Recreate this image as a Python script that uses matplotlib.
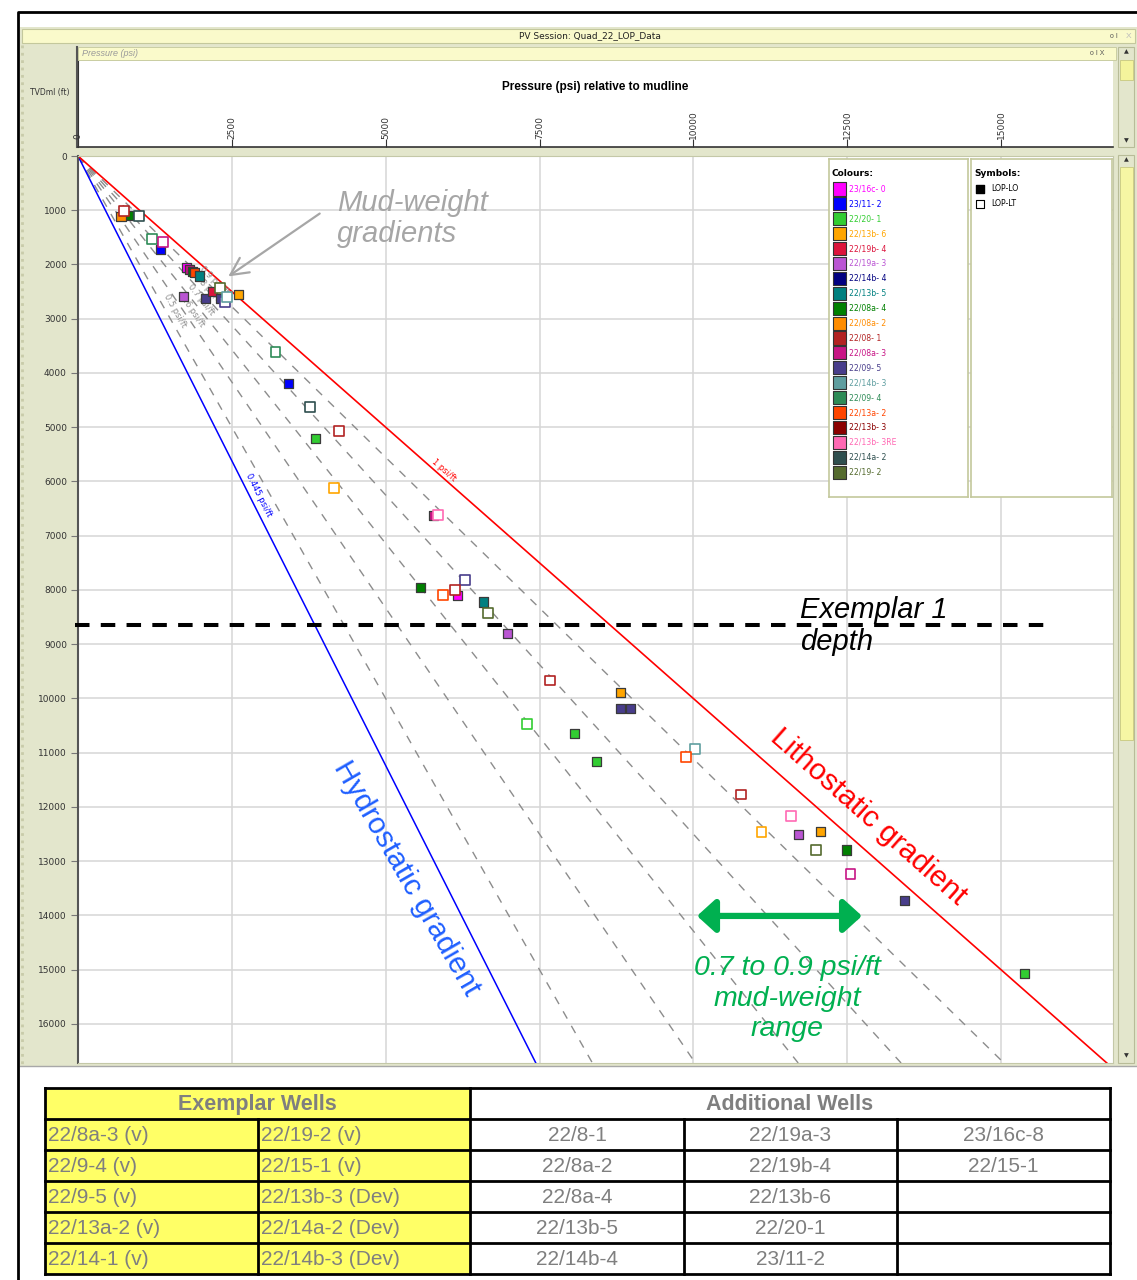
import numpy as np
import matplotlib
matplotlib.use("Agg")
import matplotlib.pyplot as plt
from matplotlib.patches import Rectangle

plt.rcParams['font.family'] = ['Liberation Sans', 'DejaVu Sans']

W, H = 1137, 1280

# wells and their plotting colours
wells = ['23/16c- 0', '23/11- 2', '22/20- 1', '22/13b- 6', '22/19b- 4', '22/19a- 3',
         '22/14b- 4', '22/13b- 5', '22/08a- 4', '22/08a- 2', '22/08- 1', '22/08a- 3',
         '22/09- 5', '22/14b- 3', '22/09- 4', '22/13a- 2', '22/13b- 3', '22/13b- 3RE',
         '22/14a- 2', '22/19- 2']
well_colors = ['#FF00FF', '#0000FF', '#32CD32', '#FFA500', '#DC143C', '#BA55D3',
               '#000080', '#008080', '#008000', '#FF8C00', '#B22222', '#C71585',
               '#483D8B', '#5F9EA0', '#2E8B57', '#FF4500', '#8B0000', '#FF69B4',
               '#2F4F4F', '#556B2F']
col_of = dict(zip(wells, well_colors))

# LOP-LO (filled symbols)
lo_psi = [820, 700, 1340, 1760, 1810, 1860, 1890, 1980, 1710, 2070, 2190, 2310, 2605,
          3423, 3856, 5773, 5568, 6163, 6586, 6981, 8822, 8822, 8980, 8064, 8432,
          11714, 12066, 12483, 13436, 15380]
lo_ft = [1100, 1120, 1720, 2050, 2090, 2130, 2150, 2214, 2583, 2620, 2497, 2620, 2546,
         4194, 5209, 6624, 7958, 8100, 8223, 8807, 9895, 10190, 10190, 10640, 11157,
         12503, 12448, 12792, 13727, 15068]
lo_well = ['22/08a- 4', '22/08a- 2', '23/11- 2', '23/16c- 0', '22/08a- 3', '22/08a- 4',
           '22/13a- 2', '22/13b- 5', '22/19a- 3', '22/09- 5', '22/19b- 4', '22/09- 5',
           '22/13b- 6', '23/11- 2', '22/20- 1', '22/08a- 3', '22/08a- 4', '23/16c- 0',
           '22/13b- 5', '22/19a- 3', '22/13b- 6', '22/09- 5', '22/09- 5', '22/20- 1',
           '22/20- 1', '22/19a- 3', '22/13b- 6', '22/08a- 4', '22/09- 5', '22/20- 1']

# LOP-LT (open symbols)
lt_psi = [747, 991, 1197, 1386, 2307, 2388, 2426, 3211, 3769, 4240, 4165, 5854, 6288,
          6125, 5936, 6667, 7674, 7300, 10024, 9878, 10772, 11584, 11108, 11990, 12554]
lt_ft = [1015, 1100, 1537, 1587, 2435, 2688, 2596, 3616, 4625, 5068, 6113, 6624, 7823,
         7995, 8100, 8426, 9668, 10467, 10928, 11083, 11771, 12171, 12466, 12786, 13234]
lt_well = ['22/08- 1', '22/14a- 2', '22/09- 4', '22/08a- 3', '22/19- 2', '22/09- 5',
           '22/14b- 3', '22/09- 4', '22/14a- 2', '22/08- 1', '22/13b- 6', '22/13b- 3RE',
           '22/09- 5', '22/08- 1', '22/13a- 2', '22/19- 2', '22/08- 1', '22/20- 1',
           '22/14b- 3', '22/13a- 2', '22/08- 1', '22/13b- 3RE', '22/13b- 6', '22/19- 2',
           '22/08a- 3']

hydro_grad = 0.445
litho_grad = 1.0
mud_grads = [0.5, 0.6, 0.7, 0.8, 0.9]
mud_label_ft = [2850, 2850, 2650, 2450, 2300]
exemplar_depth = 8650

x_ticks = [0, 2500, 5000, 7500, 10000, 12500, 15000]
y_ticks = list(range(0, 17000, 1000))
x_max, y_max = 16820, 16720

exemplar_wells = [['22/8a-3 (v)', '22/19-2 (v)'],
                  ['22/9-4 (v)', '22/15-1 (v)'],
                  ['22/9-5 (v)', '22/13b-3 (Dev)'],
                  ['22/13a-2 (v)', '22/14a-2 (Dev)'],
                  ['22/14-1 (v)', '22/14b-3 (Dev)']]
additional_wells = [['22/8-1', '22/19a-3', '23/16c-8'],
                    ['22/8a-2', '22/19b-4', '22/15-1'],
                    ['22/8a-4', '22/13b-6', ''],
                    ['22/13b-5', '22/20-1', ''],
                    ['22/14b-4', '23/11-2', '']]

BEIGE = '#E3E6CC'
PALEY = '#FAFACB'
EDGE = '#C4C89C'
GREEN = '#00B050'
GREY_TXT = '#7F7F7F'

fig = plt.figure(figsize=(W / 100, H / 100), dpi=100)

# background canvas in pixel units for the window chrome and the table
bg = fig.add_axes([0, 0, 1, 1])
bg.set_xlim(0, W)
bg.set_ylim(H, 0)
bg.axis('off')


def box(x0, y0, x1, y1, fc, ec='none', lw=0.0, z=1):
    bg.add_patch(Rectangle((x0, y0), x1 - x0, y1 - y0, facecolor=fc,
                           edgecolor=ec, lw=lw, zorder=z))


def px_axes(x0, y0, x1, y1):
    return fig.add_axes([x0 / W, 1 - y1 / H, (x1 - x0) / W, (y1 - y0) / H])


# window frame
bg.plot([18, 18, W], [H, 12, 12], color='black', lw=2, zorder=5)
box(20, 27, W, 1067, BEIGE, z=1)
box(22, 29, 1135, 43, PALEY, EDGE, 0.8, z=2)
bg.text(590, 36, 'PV Session: Quad_22_LOP_Data', fontsize=6.5, ha='center',
        va='center', family='DejaVu Sans', color='#222222', zorder=3)
bg.text(1110, 36, 'o I', fontsize=5, ha='left', va='center', color='#555555', zorder=3)
bg.text(1126, 36, 'X', fontsize=6, ha='left', va='center', color='#BBBBBB', zorder=3)
box(78, 47, 1116, 60, PALEY, EDGE, 0.6, z=2)
bg.text(82, 53.5, 'Pressure (psi)', fontsize=6.5, style='italic', color='#9A9A9A',
        va='center', zorder=3)
bg.text(1090, 53.5, 'o I X', fontsize=5, ha='left', va='center', color='#555555', zorder=3)
bg.text(50, 92, 'TVDml (ft)', fontsize=5.5, ha='center', va='center',
        family='DejaVu Sans', color='#333333', zorder=3)
bg.plot([76.5, 76.5], [47, 147], color='#555555', lw=1.5, zorder=3)
bg.plot([22, 22], [45, 1065], color='#C9CCAA', lw=2, ls=':', zorder=3)
bg.plot([20, W], [1066, 1066], color='#A8A8A8', lw=1, zorder=3)
box(20, 1068, W, H, 'white', z=1)

# scroll bars
box(1118, 47, 1134, 147, BEIGE, '#B8BC98', 0.8, z=2)
box(1120, 60, 1133, 80, '#F4F49C', '#C8C880', 0.6, z=3)
box(1118, 155, 1134, 1063, BEIGE, '#B8BC98', 0.8, z=2)
box(1120, 167, 1133, 740, '#F6F6A4', '#C8C880', 0.6, z=3)
for yy, s in [(52, '\u25B2'), (141, '\u25BC'), (160, '\u25B2'), (1056, '\u25BC')]:
    bg.text(1126, yy, s, fontsize=4.5, ha='center', va='center', color='#333333',
            family='DejaVu Sans', zorder=4)

# header axis with pressure scale
hdr = px_axes(78, 61, 1113, 147)
hdr.set_xlim(0, x_max)
hdr.set_ylim(0, 1)
hdr.set_yticks([])
hdr.set_xticks(x_ticks)
hdr.tick_params(axis='x', direction='in', length=6, width=0.8, color='#333333',
                labelbottom=False)
for sp in ['top', 'right']:
    hdr.spines[sp].set_visible(False)
hdr.spines['bottom'].set_color('#333333')
hdr.spines['left'].set_color('#333333')
hdr.spines['bottom'].set_linewidth(1.2)
hdr.text(0.5, 0.70, 'Pressure (psi) relative to mudline', transform=hdr.transAxes,
         ha='center', va='center', fontsize=8.5, fontweight='bold')
for t in x_ticks:
    hdr.text(t, 0.09, str(t), rotation=90, ha='center', va='bottom', fontsize=6.5,
             family='DejaVu Sans', color='#333333')

# main pressure-depth panel
ax = px_axes(78, 156, 1113, 1063)
ax.set_xlim(0, x_max)
ax.set_ylim(y_max, 0)
ax.set_xticks(x_ticks[1:])
ax.set_yticks(y_ticks)
ax.set_yticklabels([str(v) for v in y_ticks], fontsize=6.5, family='DejaVu Sans',
                   color='#333333')
ax.tick_params(axis='x', length=0, labelbottom=False)
ax.tick_params(axis='y', length=5, width=0.8, color='#777777', pad=3)
ax.grid(True, color='#D6D6D6', lw=1.1)
ax.set_axisbelow(True)
for sp in ['top', 'right', 'bottom']:
    ax.spines[sp].set_color('#C4C8A8')
ax.spines['left'].set_color('#555555')
ax.spines['left'].set_linewidth(1.5)

depth = np.array([0, y_max])
for g in mud_grads:
    ax.plot(g * depth, depth, color='#8C8C8C', lw=1.0, ls=(0, (6, 6)), zorder=2)
ax.plot(hydro_grad * depth, depth, color='#0000FF', lw=1.1, zorder=2)
ax.plot(litho_grad * depth, depth, color='#FF0000', lw=1.2, zorder=2)

# angle of a gradient line on screen
def screen_angle(g):
    p0 = ax.transData.transform((0, 0))
    p1 = ax.transData.transform((g * 10000, 10000))
    return np.degrees(np.arctan2(p1[1] - p0[1], p1[0] - p0[0]))


for g, d in zip(mud_grads, mud_label_ft):
    ax.text(g * d + 150, d, f'{g} psi/ft', rotation=screen_angle(g), fontsize=6,
            color='#8C8C8C', ha='center', va='center', family='DejaVu Sans',
            rotation_mode='anchor', zorder=2)
ax.text(hydro_grad * 6255 + 150, 6255, '0.445 psi/ft', rotation=screen_angle(hydro_grad),
        fontsize=6, color='#0000FF', ha='center', va='center', family='DejaVu Sans',
        rotation_mode='anchor', zorder=2)
ax.text(litho_grad * 5790 + 150, 5790, '1 psi/ft', rotation=screen_angle(litho_grad),
        fontsize=6, color='#FF0000', ha='center', va='center', family='DejaVu Sans',
        rotation_mode='anchor', zorder=2)

# exemplar depth marker
ax.plot([-50, 15770], [exemplar_depth, exemplar_depth], color='black', lw=2.9,
        ls=(0, (3.6, 2.8)), dash_capstyle='butt', clip_on=False, zorder=4)

# data points
ax.scatter(lo_psi, lo_ft, marker='s', s=44, c=[col_of[w] for w in lo_well],
           edgecolors='#3A3A3A', linewidths=0.9, zorder=5)
ax.scatter(lt_psi, lt_ft, marker='s', s=50, facecolors='white',
           edgecolors=[col_of[w] for w in lt_well], linewidths=1.2, zorder=5)

# annotations
ax.text(4209, 1152, 'Mud-weight\ngradients', fontsize=21, style='italic',
        color='#A6A6A6', ha='left', va='center', linespacing=1.15, zorder=6)
ax.annotate('', xy=(2405, 2249), xytext=(3965, 1032),
            arrowprops=dict(arrowstyle='->,head_length=0.9,head_width=0.45',
                            color='#A6A6A6', lw=1.6, mutation_scale=14), zorder=6)
ax.text(11733, 8664, 'Exemplar 1\ndepth', fontsize=21, style='italic', color='black',
        ha='left', va='center', linespacing=1.2, zorder=6)
ax.text(5347, 13309, 'Hydrostatic gradient', fontsize=21.5, color='#1F5FFF',
        rotation=-60, ha='center', va='center', rotation_mode='anchor', zorder=6)
ax.text(12839, 12184, 'Lithostatic gradient', fontsize=21.5, color='#FF0000',
        rotation=-41.5, ha='center', va='center', rotation_mode='anchor', zorder=6)
ax.annotate('', xy=(10060, 14009), xytext=(12741, 14009),
            arrowprops=dict(arrowstyle='<|-|>,head_length=0.55,head_width=0.5',
                            color=GREEN, lw=4.5, mutation_scale=20,
                            shrinkA=0, shrinkB=0), zorder=6)
ax.text(11522, 15538, '0.7 to 0.9 psi/ft\nmud-weight\nrange', fontsize=20.5,
        style='italic', color=GREEN, ha='center', va='center', linespacing=1.22,
        zorder=6)

# colour legend
leg = px_axes(829, 159, 968, 497)
leg.set_xlim(0, 139)
leg.set_ylim(338, 0)
leg.set_xticks([])
leg.set_yticks([])
for sp in leg.spines.values():
    sp.set_color(EDGE)
    sp.set_linewidth(1.2)
leg.text(3, 15, 'Colours:', fontsize=6.5, fontweight='bold', family='DejaVu Sans',
         va='center')
rows = 30 + 14.9 * np.arange(len(wells))
leg.scatter(np.full(len(wells), 10.5), rows, marker='s', s=88, c=well_colors,
            edgecolors='#333333', linewidths=0.8)
for yy, name, c in zip(rows, wells, well_colors):
    leg.text(20, yy, name, fontsize=5.6, color=c, va='center', family='DejaVu Sans')

sym = px_axes(971, 159, 1112, 497)
sym.set_xlim(0, 141)
sym.set_ylim(338, 0)
sym.set_xticks([])
sym.set_yticks([])
for sp in sym.spines.values():
    sp.set_color(EDGE)
    sp.set_linewidth(1.2)
sym.text(3, 15, 'Symbols:', fontsize=6.5, fontweight='bold', family='DejaVu Sans',
         va='center')
sym.scatter([8.5], [29.5], marker='s', s=30, c='black')
sym.scatter([8.5], [44.5], marker='s', s=30, facecolors='white', edgecolors='black',
            linewidths=0.8)
sym.text(20, 29.5, 'LOP-LO', fontsize=5.6, va='center', family='DejaVu Sans')
sym.text(20, 44.5, 'LOP-LT', fontsize=5.6, va='center', family='DejaVu Sans')

# well table
col_x = [45, 258, 470, 684, 897, 1110]
row_y = [1088, 1119, 1150, 1181, 1212, 1243, 1274]
box(col_x[0], row_y[0], col_x[2], row_y[-1], '#FFFF66', z=2)
box(col_x[2], row_y[0], col_x[-1], row_y[-1], 'white', z=2)
for yy in row_y:
    bg.plot([col_x[0], col_x[-1]], [yy, yy], color='black', lw=2, zorder=4)
for i, xx in enumerate(col_x):
    top = row_y[0] if i in (0, 2, 5) else row_y[1]
    bg.plot([xx, xx], [top, row_y[-1]], color='black', lw=2, zorder=4)
bg.text((col_x[0] + col_x[2]) / 2, (row_y[0] + row_y[1]) / 2 + 1, 'Exemplar Wells',
        fontsize=15.5, fontweight='bold', color=GREY_TXT, ha='center', va='center',
        zorder=5)
bg.text((col_x[2] + col_x[-1]) / 2, (row_y[0] + row_y[1]) / 2 + 1, 'Additional Wells',
        fontsize=15.5, fontweight='bold', color=GREY_TXT, ha='center', va='center',
        zorder=5)
for r in range(len(exemplar_wells)):
    yc = (row_y[r + 1] + row_y[r + 2]) / 2 + 1
    for c, name in enumerate(exemplar_wells[r]):
        bg.text(col_x[c] + 3, yc, name, fontsize=15, color=GREY_TXT, ha='left',
                va='center', zorder=5)
    for c, name in enumerate(additional_wells[r]):
        bg.text((col_x[c + 2] + col_x[c + 3]) / 2, yc, name, fontsize=15,
                color=GREY_TXT, ha='center', va='center', zorder=5)

fig.savefig('out.png', dpi=100)
